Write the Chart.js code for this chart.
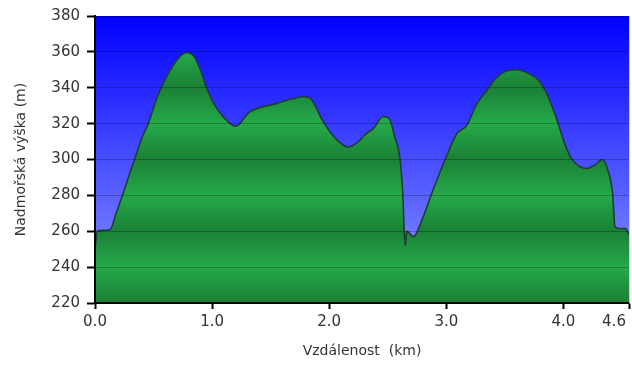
<!DOCTYPE html>
<html>
<head>
<meta charset="utf-8">
<title>Výškový profil</title>
<script src="https://cdn.jsdelivr.net/npm/chart.js@4"></script>
<style>
  html, body { margin: 0; padding: 0; background: #fff; }
  #wrap { width: 632px; height: 365px; }
</style>
</head>
<body>
<div id="wrap"><canvas id="profile"></canvas></div>
<script>
// values
const distanceKm = [0, 0.02, 0.06, 0.13, 0.18, 0.24, 0.29, 0.34, 0.41, 0.455, 0.527, 0.61, 0.70, 0.78, 0.84, 0.90,
    0.95, 1.025, 1.10, 1.20, 1.32, 1.54, 1.79, 1.84, 1.95, 2.05, 2.16, 2.25, 2.30, 2.38, 2.46, 2.51, 2.56,
    2.605, 2.628, 2.64, 2.65, 2.66, 2.676, 2.72, 2.79, 2.875, 2.99, 3.09, 3.175, 3.26, 3.345, 3.42, 3.50,
    3.60, 3.70, 3.79, 3.87, 3.94, 4.01, 4.07, 4.20, 4.27, 4.33, 4.38, 4.42, 4.44, 4.48, 4.53, 4.56];
const elevationM = [250, 260, 260.5, 261, 270, 281, 291, 300.5, 313.5, 320, 334, 346, 355.5, 359.5, 358, 350,
    340.5, 330, 323.5, 318.5, 326.5, 331, 335, 334, 321, 312, 307, 310, 313.5, 317.5, 324, 323, 312.5,
    300, 281, 261, 252, 260, 259.5, 257, 266, 281, 300, 314.5, 319, 331, 338.5, 345, 349,
    350, 348, 344, 335, 323, 309, 300.5, 295, 297, 300, 294, 281, 262.5, 261.5, 261.5, 258];
const xTicks = [0, 1, 2, 3, 4, 4.56];
const yMin = 220, yMax = 380, yStep = 20;
const xTitle = "Vzdálenost  (km)";
const yTitle = "Nadmořská výška (m)";

const FONT = "'DejaVu Sans', Verdana, sans-serif";

// green fill: darker at every second grid line, lighter in between
function bandFill(context) {
    const chart = context.chart;
    const area = chart.chartArea;
    if (!area) return '#22a045';
    const y = chart.scales.y;
    const h = area.bottom - area.top;
    const g = chart.ctx.createLinearGradient(0, area.top, 0, area.bottom);
    for (let v = yMax; v >= yMin; v -= yStep) {
        const t = Math.min(1, Math.max(0, (y.getPixelForValue(v) - area.top) / h));
        const dark = ((v - yMin) / yStep) % 2 === 0;
        g.addColorStop(t, dark ? '#1b8036' : '#25aa4a');
    }
    return g;
}

const skyPlugin = {
    id: 'sky',
    beforeDraw(chart) {
        const {ctx, chartArea: a} = chart;
        const g = ctx.createLinearGradient(0, a.top, 0, a.bottom);
        g.addColorStop(0, '#0000ff');
        g.addColorStop(1, '#909cff');
        ctx.save();
        ctx.fillStyle = g;
        ctx.fillRect(a.left, a.top, a.right - a.left, a.bottom - a.top);
        ctx.restore();
    },
    afterDraw(chart) {
        const {ctx, chartArea: a} = chart;
        ctx.save();
        ctx.strokeStyle = '#c8d4e4';
        ctx.lineWidth = 1;
        ctx.beginPath();
        ctx.moveTo(a.right + 0.5, a.top);
        ctx.lineTo(a.right + 0.5, a.bottom);
        ctx.stroke();
        ctx.restore();
    }
};

new Chart(document.getElementById('profile'), {
    type: 'line',
    data: {
        datasets: [{
            data: distanceKm.map((d, i) => ({x: d, y: elevationM[i]})),
            borderColor: '#1e3d36',
            borderWidth: 1.6,
            backgroundColor: bandFill,
            fill: 'start',
            pointRadius: 0,
            cubicInterpolationMode: 'monotone'
        }]
    },
    options: {
        responsive: true,
        maintainAspectRatio: false,
        animation: false,
        layout: { padding: { top: 16, right: 3, left: 0, bottom: 0 } },
        plugins: { legend: { display: false }, tooltip: { enabled: false } },
        scales: {
            x: {
                type: 'linear',
                min: 0,
                max: xTicks[xTicks.length - 1],
                afterBuildTicks: scale => { scale.ticks = xTicks.map(v => ({value: v})); },
                afterFit: scale => { scale.height = 62; scale.paddingLeft = 0; scale.paddingRight = 0; },
                ticks: {
                    autoSkip: false,
                    maxRotation: 0,
                    padding: 4,
                    color: '#333',
                    font: { family: FONT, size: 15 },
                    callback: (v, i, all) => i === all.length - 1 ? v.toFixed(1) + '\u2003\u2003' : v.toFixed(1)
                },
                grid: { drawOnChartArea: false, tickLength: 6, tickWidth: 2, tickColor: '#000' },
                border: { color: '#000', width: 2, z: 2 },
                title: { display: true, text: xTitle, color: '#333', font: { family: FONT, size: 14 }, padding: { top: 0, bottom: 5 } }
            },
            y: {
                min: yMin,
                max: yMax,
                afterFit: scale => { scale.width = 95; scale.paddingTop = 0; scale.paddingBottom = 0; },
                ticks: { stepSize: yStep, padding: 7, color: '#333', font: { family: FONT, size: 15 } },
                grid: { color: 'rgba(0,0,0,0.25)', lineWidth: 1, tickLength: 8, tickWidth: 2, tickColor: '#000', z: 1 },
                border: { color: '#000', width: 2, z: 2 },
                title: { display: true, text: yTitle, color: '#333', font: { family: FONT, size: 14 }, padding: { top: 13, bottom: 0 } }
            }
        }
    },
    plugins: [skyPlugin]
});
</script>
</body>
</html>
